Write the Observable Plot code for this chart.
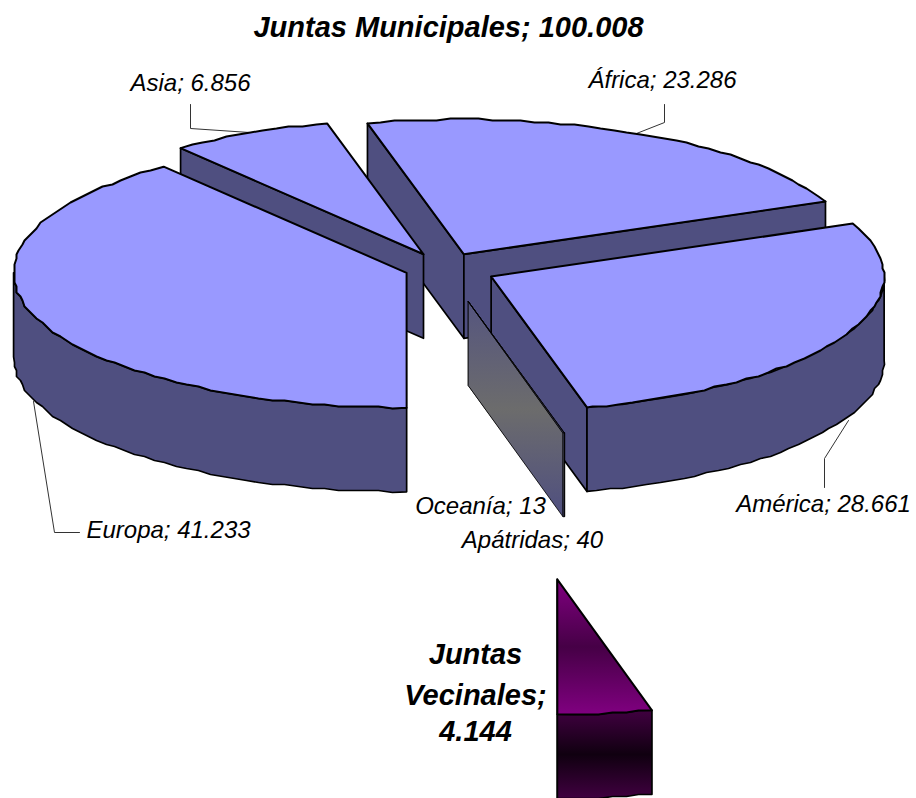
<!DOCTYPE html>
<html>
<head>
<meta charset="utf-8">
<script src="https://cdn.jsdelivr.net/npm/d3@7"></script>
<script src="https://cdn.jsdelivr.net/npm/@observablehq/plot@0.6"></script>
<style>html,body{margin:0;padding:0;background:#fff}</style>
</head>
<body>
<div id="chart"></div>
<script>
// Data, in pie order (clockwise from the upper left)
const categories = ["Asia", "África", "América", "Oceanía", "Apátridas", "Juntas Vecinales", "Europa"];
const values = [6856, 23286, 28661, 13, 40, 4144, 41233];
const valueLabels = ["6.856", "23.286", "28.661", "13", "40", "4.144", "41.233"];
const title = "Juntas Municipales; 100.008";

// Pie layout parameters
const explode = [46, 46, 53, 100, 100, 912, 39];
const startAngle = -37.6, cx = 443, cy = 268, rx = 393, ry = 135, depth = 84;
const paintOrder = ["África", "Asia", "Europa", "América", "Oceanía", "Apátridas", "Juntas Vecinales"];
const topFill = {"Oceanía": "url(#grey)", "Apátridas": "url(#grey)", "Juntas Vecinales": "url(#purpleTop)"};
const wallFill = {"Oceanía": "url(#grey)", "Apátridas": "url(#grey)", "Juntas Vecinales": "url(#purpleWall)"};

const rad = d => d * Math.PI / 180;
const total = d3.sum(values);
const snap = v => Math.round(v / 2) * 2;
// Slight perspective warp of the pie's angles, as the 3D view shows them
const warp = a => {
  const n = ((a % 360) + 360) % 360;
  const k = n < 90 || n >= 270 ? 0.6 : n < 180 ? -0.8 : 0;
  return a + k * Math.sin(rad(2 * a));
};
let acc = startAngle;
const slices = categories.map((name, i) => {
  const a0 = acc, a1 = acc + values[i] / total * 360; acc = a1;
  const mid = rad((a0 + a1) / 2);
  return {name, a0, a1, ax: cx + explode[i] * Math.sin(mid), ay: cy - explode[i] * Math.cos(mid) * ry / rx};
});
const rimPoint = (s, a, exact) => {
  const w = warp(a);
  const x = s.ax + rx * Math.sin(rad(w)), y = s.ay - ry * Math.cos(rad(w));
  return exact ? [x, y] : [snap(x), snap(y)];
};
const arc = (s, a0, a1) => {
  const pts = [rimPoint(s, a0, true)];
  for (let a = a0 + 2; a < a1 - 0.8; a += 2) pts.push(rimPoint(s, a));
  pts.push(rimPoint(s, a1, true));
  return pts;
};
const down = p => [p[0], p[1] + depth];

const polygon = (pts, fill, sw = 2) => Plot.line(pts, {x: d => d[0], y: d => d[1], fill, stroke: "black", strokeWidth: sw, strokeLinejoin: "round", curve: "linear-closed"});

const pieMarks = paintOrder.flatMap(name => {
  const s = slices.find(d => d.name === name);
  const apex = [s.ax, s.ay];
  const first = rimPoint(s, s.a0, true), last = rimPoint(s, s.a1, true);
  const wall = wallFill[name] || "#4f4f80", top = topFill[name] || "#9999ff";
  const tiny = name === "Oceanía" || name === "Apátridas";
  const ws = tiny ? 0.8 : 1.7;
  const marks = [];
  // Only the radial walls that face the viewer
  if (Math.sin(rad(s.a0)) < 0) marks.push(polygon([apex, first, down(first), down(apex)], wall, ws));
  if (Math.sin(rad(s.a1)) > 0) marks.push(polygon([apex, last, down(last), down(apex)], wall, ws));
  const r0 = Math.max(s.a0, 90), r1 = Math.min(s.a1, 270);
  if (r1 > r0) {
    const rim = arc(s, r0, r1);
    marks.push(polygon([...rim, ...rim.slice().reverse().map(down)], wall, ws));
  }
  marks.push(polygon([apex, ...arc(s, s.a0, s.a1)], top, tiny ? 0.8 : 2));
  return marks;
});

// Leader lines
const leaders = [
  {name: "Asia", pts: [[190, 104], [190, 128], [249, 132]]},
  {name: "África", pts: [[664, 104], [664, 122], [636, 133]]},
  {name: "América", pts: [[824, 487], [824, 458], [848, 420]]},
  {name: "Europa", pts: [[79, 532], [54, 532], [33, 401]]}
];
const leaderRows = leaders.flatMap(l => l.pts.map(p => ({name: l.name, x: p[0], y: p[1]})));

const lab = n => n + "; " + valueLabels[categories.indexOf(n)];
const labels = [
  {t: lab("Asia"), x: 190, y: 83},
  {t: lab("África"), x: 662, y: 80},
  {t: lab("América"), x: 823, y: 504},
  {t: lab("Oceanía"), x: 480, y: 506},
  {t: lab("Apátridas"), x: 532, y: 540},
  {t: lab("Europa"), x: 168, y: 530}
];
const vecinales = [
  {t: "Juntas", x: 475, y: 654},
  {t: "Vecinales;", x: 475, y: 695},
  {t: valueLabels[5], x: 475, y: 731}
];

const stops = (id, list) => {
  const g = d3.create("svg:linearGradient").attr("id", id).attr("x1", 0).attr("y1", 0).attr("x2", 0).attr("y2", 1);
  list.forEach(([o, c]) => g.append("stop").attr("offset", o).attr("stop-color", c));
  return g.node();
};
const defs = () => {
  const d = d3.create("svg:defs");
  d.node().append(
    stops("grey", [[0, "#55557f"], [0.5, "#6c6c6c"], [1, "#4f4f80"]]),
    stops("purpleTop", [[0, "#800080"], [0.5, "#460046"], [1, "#800080"]]),
    stops("purpleWall", [[0, "#400040"], [0.5, "#100010"], [1, "#400040"]])
  );
  return d.node();
};

const font = "'Liberation Sans', Arial, sans-serif";
const chart = Plot.plot({
  width: 916, height: 798,
  marginTop: 0, marginRight: 0, marginBottom: 0, marginLeft: 0,
  x: {domain: [0, 916], range: [0, 916], axis: null},
  y: {domain: [0, 798], range: [0, 798], axis: null},
  style: {background: "white", fontFamily: font},
  marks: [
    defs,
    Plot.line(leaderRows, {x: "x", y: "y", z: "name", stroke: "#333", strokeWidth: 1}),
    ...pieMarks,
    Plot.text(labels, {x: "x", y: "y", text: "t", fontSize: 24, fontStyle: "italic", fill: "black", fontFamily: font}),
    Plot.text(vecinales, {x: "x", y: "y", text: "t", fontSize: 29, fontStyle: "italic", fontWeight: "bold", fill: "black", fontFamily: font}),
    Plot.text([title], {x: () => 448, y: () => 27, text: d => d, fontSize: 29, fontStyle: "italic", fontWeight: "bold", fill: "black", fontFamily: font})
  ]
});
document.getElementById("chart").append(chart);
</script>
</body>
</html>
